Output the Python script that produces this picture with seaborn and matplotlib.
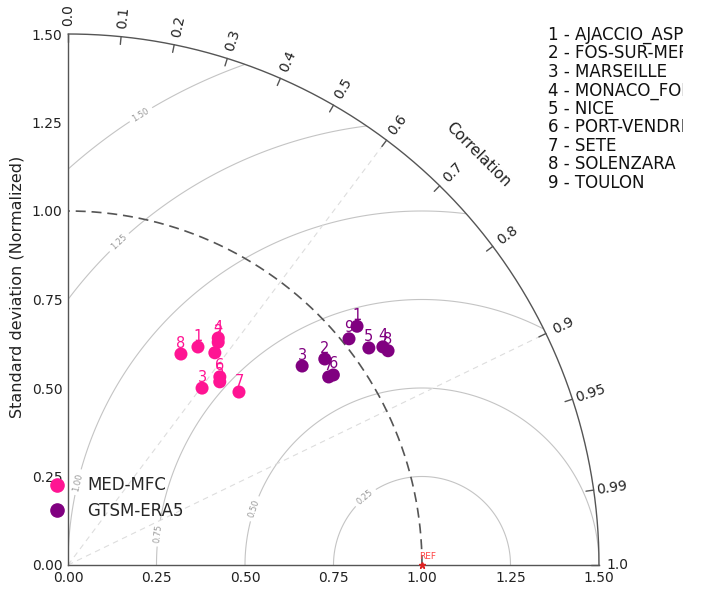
import numpy as np
import pandas as pd
import matplotlib
matplotlib.use("Agg")
import matplotlib.pyplot as plt
import seaborn as sns
from matplotlib.lines import Line2D

# ---- data -------------------------------------------------------------
stations = ["AJACCIO_ASPRETTO", "FOS-SUR-MER", "MARSEILLE", "MONACO_FONTVIEILLE",
            "NICE", "PORT-VENDRES", "SETE", "SOLENZARA", "TOULON"]
models = ["MED-MFC", "GTSM-ERA5"]

# normalized standard deviation and correlation, one value per station
med_std = [0.717, 0.759, 0.627, 0.769, 0.672, 0.683, 0.687, 0.676, 0.729]
med_corr = [0.512, 0.559, 0.604, 0.552, 0.638, 0.628, 0.703, 0.472, 0.569]
gtsm_std = [1.059, 0.930, 0.868, 1.082, 1.048, 0.922, 0.908, 1.088, 1.019]
gtsm_corr = [0.771, 0.780, 0.762, 0.822, 0.811, 0.813, 0.811, 0.831, 0.779]

model_colors = {"MED-MFC": "#ff1493", "GTSM-ERA5": "#800080"}

corr_ticks = [0.0, 0.1, 0.2, 0.3, 0.4, 0.5, 0.6, 0.7, 0.8, 0.9, 0.95, 0.99, 1.0]
corr_tick_labels = ["0.0", "0.1", "0.2", "0.3", "0.4", "0.5", "0.6", "0.7",
                    "0.8", "0.9", "0.95", "0.99", "1.0"]
corr_grid = [0.6, 0.9]
rms_levels = [0.25, 0.50, 0.75, 1.00, 1.25, 1.50]
std_ticks = [0.0, 0.25, 0.5, 0.75, 1.0, 1.25, 1.5]
std_max = 1.5
ref_std = 1.0

# ---- build table ------------------------------------------------------
rows = []
for model, stds, corrs in [("MED-MFC", med_std, med_corr),
                           ("GTSM-ERA5", gtsm_std, gtsm_corr)]:
    for i, (s, c) in enumerate(zip(stds, corrs)):
        th = np.arccos(c)
        rows.append({"model": model, "num": i + 1, "station": stations[i],
                     "x": s * np.cos(th), "y": s * np.sin(th)})
df = pd.DataFrame(rows)

sns.set_style("white")
plt.rcParams["font.family"] = ["DejaVu Sans"]

fig = plt.figure(figsize=(7.03, 5.90), dpi=100)
ax = fig.add_axes([68 / 703, 25 / 590, 531 / 703, 531 / 590])
ax.set_xlim(0, std_max)
ax.set_ylim(0, std_max)
ax.set_aspect("equal")

# centred RMS difference contours around the reference point
r = np.linspace(0, std_max, 400)
t = np.linspace(0, np.pi / 2, 400)
R, T = np.meshgrid(r, t)
X, Y = R * np.cos(T), R * np.sin(T)
Z = np.hypot(X - ref_std, Y)
cs = ax.contour(X, Y, Z, levels=rms_levels, colors="#c4c4c4", linewidths=0.8, zorder=1)
ax.clabel(cs, fmt="%.2f", fontsize=6, colors="#999999", inline=True, inline_spacing=4,
          manual=[(0.839, 0.192), (0.52, 0.161), (0.251, 0.09), (0.028, 0.234),
                  (0.144, 0.912), (0.203, 1.277)])

# correlation grid lines
for c in corr_grid:
    th = np.arccos(c)
    ax.plot([0, std_max * np.cos(th)], [0, std_max * np.sin(th)], ls=(0, (5, 4)),
            color="#dddddd", lw=0.8, zorder=1)

# outer arc and reference std arc
arc = np.linspace(0, np.pi / 2, 300)
ax.plot(std_max * np.cos(arc), std_max * np.sin(arc), color="#555555", lw=1.0,
        clip_on=False, zorder=3)
ax.plot(ref_std * np.cos(arc), ref_std * np.sin(arc), ls=(0, (6, 3.5)),
        color="#555555", lw=1.2, zorder=2)

# correlation ticks and labels
for c, lab in zip(corr_ticks, corr_tick_labels):
    th = np.arccos(c)
    ax.plot([std_max * np.cos(th), (std_max - 0.022) * np.cos(th)],
            [std_max * np.sin(th), (std_max - 0.022) * np.sin(th)],
            color="#555555", lw=1.0, clip_on=False, zorder=3)
    ax.text(1.553 * np.cos(th), 1.553 * np.sin(th), lab, rotation=np.degrees(th),
            rotation_mode="anchor", ha="center", va="center", fontsize=10,
            color="#222222", clip_on=False)
ax.text(1.638 * np.cos(np.pi / 4), 1.638 * np.sin(np.pi / 4), "Correlation",
        rotation=-45, ha="center", va="center", fontsize=11, color="#222222")

# model points
sns.scatterplot(data=df, x="x", y="y", hue="model", palette=model_colors,
                s=88, linewidth=0, legend=False, ax=ax, zorder=5)
for _, row in df.iterrows():
    ax.annotate(str(row["num"]), (row["x"], row["y"]), xytext=(0, 2.5),
                textcoords="offset points", ha="center", va="bottom",
                fontsize=10.5, color=model_colors[row["model"]], zorder=4)

# reference point
ax.plot(ref_std, 0, marker="*", color="#dd2222", ms=5, clip_on=False, zorder=6)
ax.text(ref_std + 0.017, 0.024, "REF", color="#ff4444", fontsize=6.5,
        ha="center", va="center")

# axes styling
ax.set_xticks(std_ticks)
ax.set_yticks(std_ticks)
ax.set_xticklabels([f"{v:.2f}" for v in std_ticks])
ax.set_yticklabels([f"{v:.2f}" for v in std_ticks])
ax.tick_params(direction="in", length=5.5, width=1, color="#555555",
               labelsize=10, labelcolor="#222222", pad=4)
for side in ["top", "right"]:
    ax.spines[side].set_visible(False)
for side in ["left", "bottom"]:
    ax.spines[side].set_color("#555555")
    ax.spines[side].set_linewidth(1.0)
ax.set_xlabel("")
ax.set_ylabel("Standard deviation (Normalized)", fontsize=11.5, color="#222222")
ax.yaxis.set_label_coords(-0.082, 0.524)
ax.grid(False)

# legend
handles = [Line2D([], [], marker="o", ls="", color=model_colors[m], ms=9.5) for m in models]
ax.legend(handles, models, loc="center left", bbox_to_anchor=(-0.036, 0.126),
          frameon=False, fontsize=12, handlelength=1.0, handletextpad=1.3,
          borderpad=0, borderaxespad=0, labelspacing=0.45)

# station list
tax = fig.add_axes([530 / 703, 1 - 210 / 590, (683 - 530) / 703, 190 / 590])
tax.axis("off")
tax.set_xlim(530, 683)
tax.set_ylim(210, 20)
for i, name in enumerate(stations):
    tax.text(548, 35 + 18.5 * i, f"{i + 1} - {name}", fontsize=12, color="#111111",
             ha="left", va="center", clip_on=True)

fig.savefig("out.png", dpi=100)
